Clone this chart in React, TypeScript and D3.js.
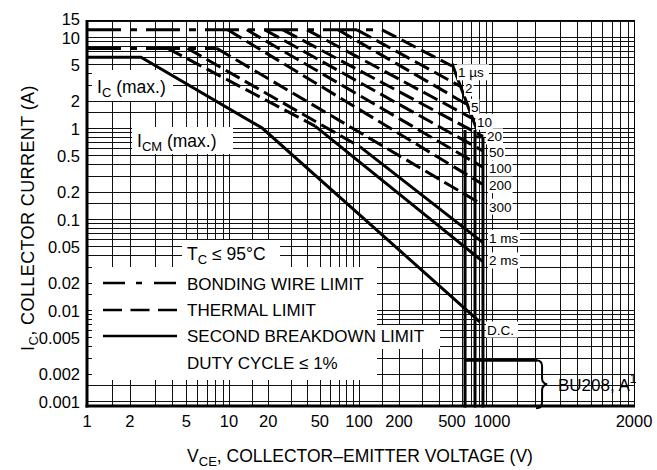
import * as d3 from "d3";

// Safe operating area chart (BU208). The voltage axis of the original is not one
// uniform log scale, so x uses a piecewise log scale through the labelled decades.

const W = 657;
const H = 470;
const PLOT = { left: 87, right: 634, top: 20, bottom: 406 };

const X_TICKS = [1, 2, 5, 10, 20, 50, 100, 200, 500, 1000, 2000];
const Y_TICKS = [0.001, 0.002, 0.005, 0.01, 0.02, 0.05, 0.1, 0.2, 0.5, 1, 2, 5, 10, 15];
const X_BREAKS = [1, 10, 100, 1000, 2000];
const GRID_STEPS = [1.5, 2, 3, 4, 5, 6, 7, 8, 9];

type Pt = [number, number];

// I_C (A) against V_CE (V)
const BONDING_WIRE: Pt[] = [[1, 12], [150, 12]];
const BONDING_WIRE_LOW: Pt[] = [[1, 7.5], [8.2, 7.5]];
const DC_LIMIT: Pt[] = [[1, 6], [2.4, 6], [18, 1], [810, 0.0074]];
const SB_ENVELOPE: Pt[] = [[500, 5.1], [770, 0.95]];
const TH_1MS: Pt[] = [[5.1, 7.5], [102, 0.62]];
const SB_1MS: Pt[] = [[102, 0.62], [855, 0.055]];
const TH_2MS: Pt[] = [[3.7, 7.5], [46, 1.05]];
const SB_2MS: Pt[] = [[46, 1.05], [855, 0.034]];

// thermal limits of 1 µs ... 300 µs pulses
const THERMAL_START: Pt[] = [
  [149, 12], [96.5, 12], [69, 12], [39.8, 12], [26, 12],
  [18.9, 12], [13.7, 12], [9.8, 12], [8.2, 7.5],
];
const THERMAL_END: Pt[] = [
  [500, 4.8], [574, 2.89], [660, 1.79], [745, 1.23], [855, 0.81],
  [855, 0.56], [855, 0.37], [855, 0.24], [855, 0.143],
];

const VCEO_V = [627, 745, 855];
const VCEO_TOP_A = [0.95, 0.95, 0.8];
const LEAK_A = 0.0028;
const LEAK_END_V = 1246;

const PULSE_LABELS = ["1 µs", "2", "5", "10", "20", "50", "100", "200", "300", "1 ms", "2 ms", "D.C."];
const PULSE_LABEL_V = [555, 627, 694, 771, 917, 950, 950, 950, 950, 950, 950, 917];
const PULSE_LABEL_A = [4.1, 2.73, 1.71, 1.17, 0.81, 0.545, 0.36, 0.236, 0.137, 0.062, 0.035, 0.0061];

const FONT = "'Liberation Sans', Arial, sans-serif";

const x = d3
  .scaleLog()
  .domain(X_BREAKS)
  .range([87, 229, 359, 492, 634]);
const y = d3.scaleLog().domain([0.001, 15]).range([401, 21]);

// last segment of the paper is a full (compressed) decade
const xPaper = d3.scaleLog().domain([1000, 10000]).range([x(1000), x(2000)]);

const line = d3
  .line<Pt>()
  .x((d) => x(d[0]))
  .y((d) => y(d[1]));

const crisp = (v: number) => Math.round(v) + 0.5;

function gridX(): number[] {
  const out: number[] = [];
  [1, 10, 100].forEach((dec) => {
    out.push(x(dec));
    GRID_STEPS.forEach((s) => out.push(x(dec * s)));
  });
  out.push(x(1000));
  GRID_STEPS.forEach((s) => out.push(xPaper(1000 * s)));
  return out.map(crisp);
}

function gridY(): number[] {
  const out: number[] = [];
  [0.001, 0.01, 0.1, 1].forEach((dec) => {
    out.push(y(dec));
    GRID_STEPS.forEach((s) => out.push(y(dec * s)));
  });
  out.push(y(10), y(15));
  return out.map(crisp);
}

const DASH_THERMAL = "16 6";
const DASH_BOND = "34 9 7 9";

function WhiteBox({ x0, y0, w, h }: { x0: number; y0: number; w: number; h: number }) {
  return <rect x={x0} y={y0} width={w} height={h} fill="#fff" />;
}

export default function App() {
  const gx = gridX();
  const gy = gridY();
  const thick = 3;

  return (
    <svg width={W} height={H} style={{ display: "block", position: "absolute", left: 0, top: 0, background: "#fff" }}>
      <rect width={W} height={H} fill="#fff" />
      {/* grid */}
      <g stroke="#111" strokeWidth={1}>
        {gx.map((v, i) => (
          <line key={"gx" + i} x1={v} x2={v} y1={PLOT.top} y2={PLOT.bottom} />
        ))}
        {gy.map((v, i) => (
          <line key={"gy" + i} x1={PLOT.left} x2={PLOT.right} y1={v} y2={v} />
        ))}
      </g>

      {/* white label areas */}
      <WhiteBox x0={92} y0={70} w={81} h={31} />
      <WhiteBox x0={132} y0={127} w={101} h={27} />
      <WhiteBox x0={182} y0={240} w={98} h={27} />
      <WhiteBox x0={92} y0={267} w={285} h={113} />
      <WhiteBox x0={377} y0={325} w={63} h={24} />

      {/* curves */}
      <g fill="none" stroke="#000" strokeWidth={thick}>
        <path d={line(BONDING_WIRE) ?? ""} strokeDasharray={DASH_BOND} />
        <path d={line(BONDING_WIRE_LOW) ?? ""} strokeDasharray={DASH_BOND} />
        {THERMAL_START.map((p, i) => (
          <path
            key={"th" + i}
            d={line([p, THERMAL_END[i]]) ?? ""}
            strokeDasharray={DASH_THERMAL}
          />
        ))}
        <path d={line(TH_1MS) ?? ""} strokeDasharray={DASH_THERMAL} />
        <path d={line(TH_2MS) ?? ""} strokeDasharray={DASH_THERMAL} />
        <path d={line(SB_1MS) ?? ""} />
        <path d={line(SB_2MS) ?? ""} />
        <path d={line(DC_LIMIT) ?? ""} />
        <path d={line(SB_ENVELOPE) ?? ""} />
        {VCEO_V.map((v, i) => (
          <path key={"vc" + i} d={line([[v, VCEO_TOP_A[i]], [v, 0.00085]]) ?? ""} />
        ))}
        <path d={line([[VCEO_V[1], 0.8], [VCEO_V[2], 0.8]]) ?? ""} />
        <path d={line([[VCEO_V[0], LEAK_A], [LEAK_END_V, LEAK_A]]) ?? ""} />
      </g>

      {/* brace */}
      <path
        d={`M${x(LEAK_END_V) - 1},${y(LEAK_A)} q6,0 6,6 v12 q0,5 5,6 q-5,1 -5,6 v12 q0,6 -6,6`}
        fill="none"
        stroke="#000"
        strokeWidth={2}
      />

      {/* frame */}
      <rect
        x={PLOT.left + 0.5}
        y={PLOT.top + 0.5}
        width={PLOT.right - PLOT.left}
        height={PLOT.bottom - PLOT.top}
        fill="none"
        stroke="#000"
        strokeWidth={1}
      />
      <line x1={PLOT.left} x2={PLOT.left} y1={PLOT.top} y2={PLOT.bottom + 1.5} stroke="#000" strokeWidth={3} />
      <line x1={PLOT.left - 1.5} x2={PLOT.right + 1} y1={PLOT.bottom} y2={PLOT.bottom} stroke="#000" strokeWidth={3} />

      {/* pulse labels */}
      <g fontFamily={FONT} fontSize={13.5} fill="#000">
        {PULSE_LABELS.map((t, i) => {
          const px = x(PULSE_LABEL_V[i]);
          const py = y(PULSE_LABEL_A[i]);
          const wdt = t.length * 7.5 + 2;
          return (
            <g key={"pl" + i}>
              <rect x={px - 1} y={py - 8} width={wdt} height={16} fill="#fff" />
              <text x={px} y={py + 5}>
                {t}
              </text>
            </g>
          );
        })}
      </g>

      {/* annotations */}
      <g fontFamily={FONT} fill="#000" fontSize={17.5}>
        <text x={97} y={93}>
          I<tspan fontSize={13} dy={4}>C</tspan>
          <tspan dy={-4}> (max.)</tspan>
        </text>
        <text x={137} y={147}>
          I<tspan fontSize={13} dy={4}>CM</tspan>
          <tspan dy={-4}> (max.)</tspan>
        </text>
        <text x={187} y={260}>
          T<tspan fontSize={13} dy={4}>C</tspan>
          <tspan dy={-4}> ≤ 95°C</tspan>
        </text>
      </g>
      <g fontFamily={FONT} fill="#000" fontSize={17}>
        <text x={187} y={289.5}>BONDING WIRE LIMIT</text>
        <text x={187} y={316}>THERMAL LIMIT</text>
        <text x={187} y={342}>SECOND BREAKDOWN LIMIT</text>
        <text x={187} y={369}>DUTY CYCLE ≤ 1%</text>
        <text x={558} y={391}>
          BU208, A<tspan fontSize={12} dy={-8}>1</tspan>
        </text>
      </g>

      {/* legend samples */}
      <g stroke="#000" strokeWidth={2.5}>
        <line x1={103} x2={177} y1={283} y2={283} strokeDasharray="22 11 6 12" />
        <line x1={103} x2={177} y1={310} y2={310} strokeDasharray="19 8.5" />
        <line x1={103} x2={177} y1={336} y2={336} />
      </g>

      {/* axes labels */}
      <g fontFamily={FONT} fontSize={16.5} fill="#000">
        {X_TICKS.map((v) => (
          <text key={"xt" + v} x={x(v)} y={427} textAnchor="middle">
            {v}
          </text>
        ))}
        {Y_TICKS.map((v) => (
          <text key={"yt" + v} x={80} y={y(v) + (v === 15 ? 4 : 6.5)} textAnchor="end">
            {v}
          </text>
        ))}
      </g>
      <text x={360} y={462} fontFamily={FONT} fontSize={17.5} textAnchor="middle">
        V<tspan fontSize={13} dy={4}>CE</tspan>
        <tspan dy={-4}>, COLLECTOR–EMITTER VOLTAGE (V)</tspan>
      </text>
      <text
        transform="translate(34,218) rotate(-90)"
        fontFamily={FONT}
        fontSize={18}
        letterSpacing={0.4}
        textAnchor="middle"
      >
        I<tspan fontSize={13} dy={4}>C</tspan>
        <tspan dy={-4}>, COLLECTOR CURRENT (A)</tspan>
      </text>
    </svg>
  );
}
